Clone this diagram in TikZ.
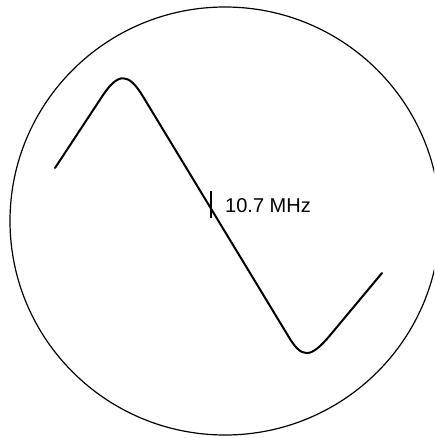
\documentclass[tikz,border=0pt]{standalone}
\usepackage{fontspec}
\setmainfont{Liberation Sans}
\begin{document}
\begin{tikzpicture}[x=1pt,y=-1pt,
  rim/.style={line width=1.2pt},
  trace/.style={line width=2pt,line cap=round,line join=round},
  marker/.style={line width=1.5pt},
  lbl/.style={inner sep=0pt,anchor=base west,font=\fontsize{20}{21}\selectfont}]
\useasboundingbox (0,0) rectangle (434,438);
\begin{scope}
\clip (0,0) rectangle (434,438);
\draw[rim] (225,221) ellipse [x radius=215, y radius=214];
\end{scope}
\coordinate (s) at (55,168);
\coordinate (p1) at (102,96.6);
\coordinate (c1) at (118,72.2);
\coordinate (c2) at (128.3,72.1);
\coordinate (p2) at (143,96.5);
\coordinate (t1) at (287.6,335);
\coordinate (d1) at (301.6,359.1);
\coordinate (d2) at (310.1,359.1);
\coordinate (t2) at (330.3,335);
\coordinate (e) at (382,273);
\draw[trace] (s) -- (p1) .. controls (c1) and (c2) .. (p2) -- (t1) .. controls (d1) and (d2) .. (t2) -- (e);
\coordinate (m1) at (211,191);
\coordinate (m2) at (211,218);
\draw[marker] (m1) -- (m2);
\node[lbl] (f) at (225,212) {10.7 MHz};
\end{tikzpicture}
\end{document}
